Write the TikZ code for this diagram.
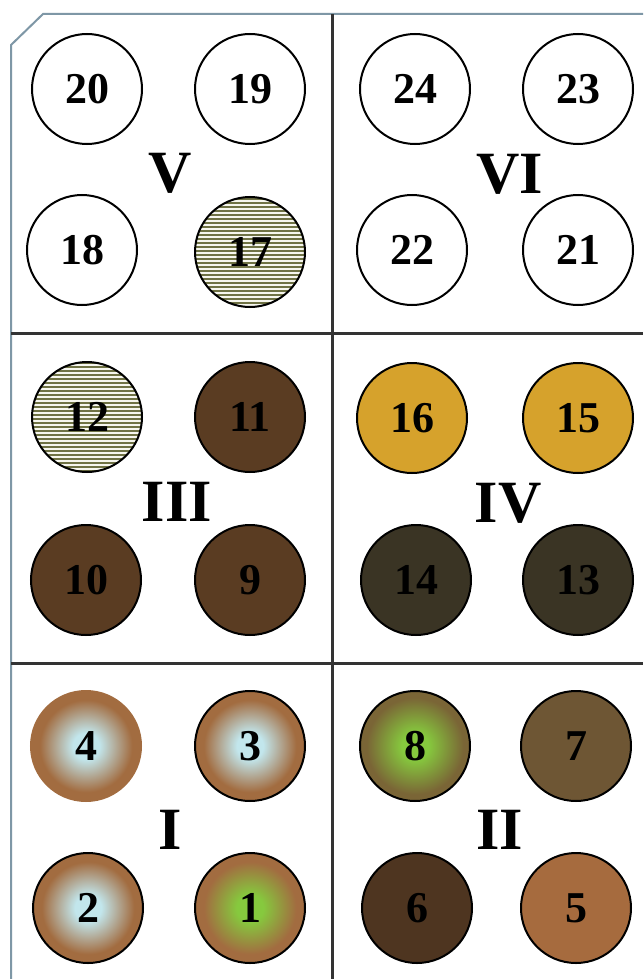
\documentclass[tikz,border=0pt]{standalone}
\usepackage{fontspec}
\setmainfont{Liberation Serif}
\usetikzlibrary{patterns.meta}

\definecolor{framegray}{HTML}{7E97A6}
\definecolor{stripegreen}{HTML}{6F7244}
\definecolor{stripebg}{HTML}{F6F6EE}
\definecolor{soilbrown}{HTML}{5A3C22}
\definecolor{ochre}{HTML}{D6A22C}
\definecolor{darkolive}{HTML}{5A5039}
\definecolor{olivetop}{HTML}{3A3424}
\definecolor{corecyan}{HTML}{C2E6EC}
\definecolor{rimbrown}{HTML}{A26C40}
\definecolor{coregreen}{HTML}{86C93E}
\definecolor{rimolive}{HTML}{7A6536}
\definecolor{mudolive}{HTML}{6E5634}
\definecolor{deepbrown}{HTML}{4E3520}
\definecolor{tanbrown}{HTML}{A66B3E}

% radial fills of panels I and II
\pgfdeclareradialshading{cyancore}{\pgfpoint{0bp}{0bp}}{color(0bp)=(corecyan); color(6bp)=(corecyan); color(21bp)=(rimbrown); color(25bp)=(rimbrown); color(50bp)=(rimbrown)}
\pgfdeclareradialshading{greencore}{\pgfpoint{0bp}{0bp}}{color(0bp)=(coregreen); color(6bp)=(coregreen); color(21bp)=(rimbrown); color(25bp)=(rimbrown); color(50bp)=(rimbrown)}
\pgfdeclareradialshading{greenolive}{\pgfpoint{0bp}{0bp}}{color(0bp)=(coregreen); color(6bp)=(coregreen); color(22bp)=(rimolive); color(25bp)=(rimolive); color(50bp)=(rimolive)}

\tikzset{
  well/.style={circle, draw=black, line width=1pt, minimum size=55pt, inner sep=0pt,
    font=\fontsize{22pt}{22pt}\selectfont\bfseries},
  striped/.style={preaction={fill=stripebg},
    pattern={Lines[angle=0, distance=2pt, line width=1pt]}, pattern color=stripegreen},
  murky/.style={top color=olivetop, middle color=darkolive, bottom color=olivetop},
  zone/.style={inner sep=0pt, font=\fontsize{30pt}{30pt}\selectfont\bfseries},
  divider/.style={line width=1.5pt, black!80}
}

\begin{document}
\begin{tikzpicture}[x=0.5pt, y=-0.5pt]
  \fill[white] (0,0) rectangle (643,979);
  \useasboundingbox (0,0) rectangle (643,979);
  % outer frame with cut corner
  \draw[framegray, line width=1pt] (11,979) -- (11,45) -- (43,14) -- (643,14);
  % grid of the six panels
  \draw[divider] (332,14) -- (332,979);
  \draw[divider] (11,333) -- (643,333);
  \draw[divider] (11,663) -- (643,663);

  % panel V
  \node[well] (w20) at (87,89)  {20};
  \node[well] (w19) at (250,89) {19};
  \node[well] (w18) at (82,250) {18};
  \node[well, striped] (w17) at (250,252) {17};
  \node[zone] (zV) at (170,173) {V};
  % panel VI
  \node[well] (w24) at (415,89)  {24};
  \node[well] (w23) at (578,89)  {23};
  \node[well] (w22) at (412,250) {22};
  \node[well] (w21) at (578,250) {21};
  \node[zone] (zVI) at (510,174) {VI};

  % panel III
  \node[well, striped] (w12) at (87,417) {12};
  \node[well, fill=soilbrown] (w11) at (250,417) {11};
  \node[well, fill=soilbrown] (w10) at (86,580)  {10};
  \node[well, fill=soilbrown] (w9)  at (250,580) {9};
  \node[zone] (zIII) at (177,502) {III};
  % panel IV
  \node[well, fill=ochre] (w16) at (412,418) {16};
  \node[well, fill=ochre] (w15) at (578,418) {15};
  \node[well, murky] (w14) at (416,580) {14};
  \node[well, murky] (w13) at (578,580) {13};
  \node[zone] (zIV) at (508,503) {IV};

  % panel I
  \node[well, draw=rimbrown, shading=cyancore] (w4) at (86,746) {4};
  \node[well, shading=cyancore] (w3) at (250,746) {3};
  \node[well, shading=cyancore] (w2) at (88,908)  {2};
  \node[well, shading=greencore] (w1) at (250,908) {1};
  \node[zone] (zI) at (170,830) {I};
  % panel II
  \node[well, shading=greenolive] (w8) at (415,746) {8};
  \node[well, fill=mudolive] (w7) at (576,746) {7};
  \node[well, fill=deepbrown] (w6) at (417,908) {6};
  \node[well, fill=tanbrown] (w5) at (576,908) {5};
  \node[zone] (zII) at (500,830) {II};
\end{tikzpicture}
\end{document}
